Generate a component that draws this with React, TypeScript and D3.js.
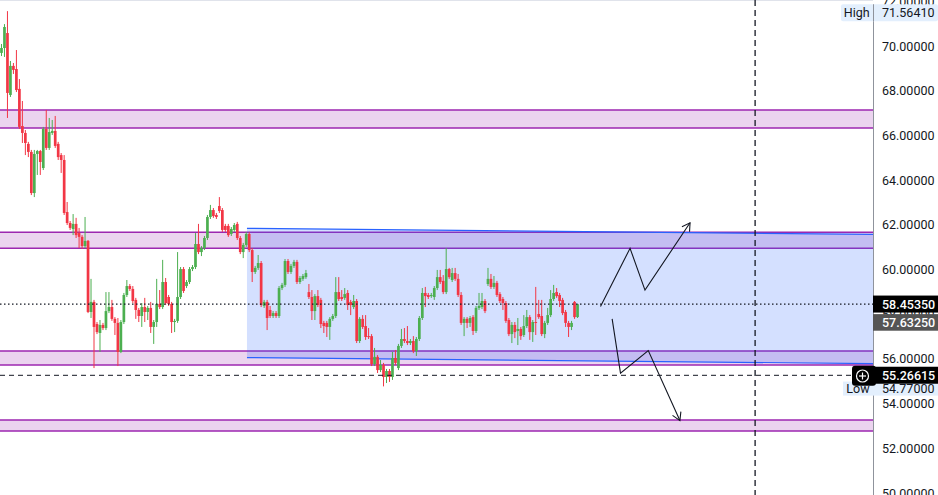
import React from "react";
import * as d3 from "d3";

// ---- candle data (price units) ----
const opens = [
  69.69, 69.91, 70.58, 67.81, 69.11, 68.97, 68.08, 66.42, 66.11, 65.62,
  65.26, 63.42, 65.17, 65.30, 64.54, 66.29, 65.44, 66.11, 66.20, 65.62,
  65.12, 64.90, 62.57, 62.08, 61.81, 62.04, 61.63, 61.46, 61.05, 61.28,
  58.10, 58.55, 57.56, 57.16, 57.52, 57.38, 58.14, 58.32, 57.79, 57.61,
  56.31, 57.65, 58.86, 59.26, 59.13, 58.64, 58.19, 57.92, 58.32, 58.10,
  58.28, 57.43, 57.65, 58.46, 58.32, 59.44, 58.77, 58.46, 57.65, 57.70,
  58.77, 60.02, 59.26, 59.44, 60.02, 60.11, 61.14, 60.78, 60.96, 61.41,
  62.35, 62.66, 62.44, 62.84, 62.66, 61.95, 61.95, 61.59, 61.77, 62.04,
  61.41, 60.78, 61.10, 61.59, 60.87, 59.89, 60.07, 60.29, 58.37, 58.55,
  58.19, 57.92, 58.05, 57.92, 59.17, 59.31, 60.38, 59.89, 60.16, 60.34,
  59.44, 59.58, 59.66, 58.99, 58.77, 58.14, 58.81, 58.64, 57.61, 57.61,
  57.43, 57.79, 57.92, 58.99, 58.77, 58.73, 58.95, 58.55, 58.32, 58.59,
  56.80, 57.79, 57.47, 57.02, 57.02, 55.77, 56.09, 55.50, 55.73, 55.19,
  55.46, 55.19, 56.04, 55.59, 56.58, 56.89, 56.80, 56.71, 56.80, 56.35,
  56.89, 57.83, 58.95, 58.86, 58.81, 58.77, 59.17, 59.66, 59.49, 58.99,
  60.02, 59.53, 59.84, 59.58, 58.86, 57.61, 57.79, 57.61, 57.87, 57.25,
  58.28, 58.32, 58.59, 59.35, 59.58, 59.22, 59.40, 58.90, 58.68, 58.50,
  57.74, 57.11, 57.52, 57.25, 57.34, 57.07, 57.47, 57.87, 57.20, 57.65,
  58.01, 57.92, 57.11, 57.61, 57.96, 58.68, 58.99, 58.86, 58.64, 58.10,
  57.61, 57.43, 58.55, 57.87,
];
const highs = [
  70.09, 70.98, 71.56, 69.33, 69.24, 69.82, 68.52, 67.54, 66.24, 65.71,
  65.35, 65.35, 65.35, 65.35, 66.38, 67.14, 66.78, 66.69, 66.87, 65.71,
  65.21, 65.12, 63.02, 62.17, 62.48, 62.31, 61.86, 61.54, 62.35, 61.32,
  59.58, 58.64, 57.65, 57.74, 57.61, 58.99, 58.99, 58.64, 57.87, 57.83,
  57.74, 58.95, 59.53, 59.35, 59.26, 58.73, 58.28, 58.50, 58.73, 58.37,
  58.55, 57.74, 59.58, 59.08, 60.43, 59.62, 58.86, 58.55, 57.79, 60.78,
  60.11, 60.11, 59.53, 60.11, 60.20, 61.63, 62.04, 61.05, 61.50, 62.44,
  62.89, 62.75, 62.53, 63.24, 62.75, 62.04, 62.04, 61.90, 62.08, 62.13,
  61.50, 61.19, 61.68, 61.68, 60.96, 60.16, 60.65, 60.38, 58.64, 58.64,
  58.37, 58.14, 58.14, 59.26, 59.40, 60.47, 60.47, 60.25, 60.43, 60.43,
  59.71, 59.80, 59.98, 59.35, 59.08, 58.90, 59.08, 58.73, 57.70, 57.70,
  57.87, 58.01, 59.66, 59.66, 59.08, 59.17, 59.08, 58.64, 58.86, 58.68,
  57.87, 57.96, 57.96, 57.38, 57.11, 56.49, 56.17, 55.95, 55.82, 55.55,
  55.55, 56.31, 56.40, 56.67, 57.34, 57.38, 57.47, 56.89, 57.02, 56.98,
  57.92, 59.17, 59.22, 58.95, 58.95, 59.26, 59.98, 59.98, 59.75, 60.96,
  60.07, 60.07, 60.07, 59.80, 58.99, 57.87, 57.87, 57.92, 57.96, 58.37,
  58.95, 58.95, 58.68, 60.07, 59.80, 59.71, 59.49, 58.99, 58.77, 58.59,
  57.83, 57.65, 57.65, 57.83, 57.43, 57.96, 58.19, 57.96, 57.74, 59.22,
  58.64, 58.64, 57.70, 58.28, 59.08, 59.31, 59.17, 58.95, 58.73, 58.19,
  57.70, 57.70, 58.59, 58.46,
];
const lows = [
  69.55, 69.51, 66.78, 67.72, 68.75, 67.94, 66.29, 65.66, 65.12, 65.03,
  63.33, 63.24, 64.23, 64.23, 64.45, 65.35, 65.35, 66.02, 65.44, 64.90,
  64.32, 62.44, 61.99, 61.77, 61.54, 61.41, 60.96, 60.92, 60.96, 58.05,
  57.83, 55.59, 57.11, 56.31, 57.29, 57.29, 58.05, 57.70, 57.07, 55.68,
  56.26, 57.56, 58.77, 59.04, 58.50, 57.79, 57.65, 57.43, 57.65, 57.74,
  57.16, 56.67, 57.43, 58.23, 58.23, 58.41, 58.37, 57.16, 57.20, 57.61,
  58.68, 58.95, 59.17, 59.35, 59.93, 60.02, 60.69, 60.60, 60.87, 61.32,
  62.26, 62.31, 62.26, 62.53, 61.68, 61.68, 61.46, 61.50, 61.68, 61.32,
  60.69, 60.51, 61.01, 60.78, 59.44, 59.80, 59.98, 58.32, 58.28, 57.29,
  57.83, 57.83, 57.83, 57.83, 59.08, 59.22, 59.80, 59.80, 60.07, 59.35,
  59.35, 59.49, 59.58, 58.68, 57.74, 57.74, 58.32, 57.38, 57.16, 56.98,
  56.85, 57.70, 57.83, 58.59, 58.59, 58.64, 58.19, 57.96, 58.23, 56.71,
  56.71, 57.34, 56.85, 56.89, 55.68, 55.68, 55.37, 55.41, 54.77, 54.92,
  54.97, 55.06, 55.73, 55.50, 56.49, 56.71, 56.62, 56.62, 56.26, 56.13,
  56.80, 57.74, 58.32, 58.68, 58.73, 58.64, 59.08, 59.35, 58.90, 58.90,
  59.58, 59.44, 59.49, 58.77, 57.52, 57.02, 57.38, 57.43, 57.07, 57.16,
  58.19, 58.23, 58.05, 59.26, 59.13, 59.13, 58.77, 58.50, 58.19, 57.61,
  57.02, 56.71, 56.93, 56.62, 56.85, 56.98, 57.38, 56.85, 56.76, 57.07,
  57.79, 57.02, 56.93, 57.52, 57.87, 58.59, 58.73, 58.32, 57.96, 57.43,
  56.98, 57.29, 57.79, 57.83,
];
const closes = [
  69.91, 70.85, 67.90, 69.11, 68.93, 68.03, 66.38, 66.11, 65.66, 65.26,
  63.42, 65.17, 65.30, 64.81, 66.29, 65.44, 66.15, 66.20, 65.53, 65.03,
  64.90, 62.53, 62.08, 61.86, 62.04, 61.54, 61.46, 61.05, 61.28, 58.10,
  58.55, 57.43, 57.20, 57.52, 57.38, 58.14, 58.32, 57.79, 57.61, 56.31,
  57.65, 58.86, 59.26, 59.13, 58.59, 58.19, 57.92, 58.32, 58.10, 58.28,
  57.43, 57.65, 58.46, 58.32, 59.44, 58.50, 58.46, 57.65, 57.70, 58.77,
  60.02, 59.04, 59.44, 60.02, 60.11, 61.14, 60.78, 60.96, 61.41, 62.35,
  62.66, 62.39, 62.35, 62.62, 61.77, 61.77, 61.54, 61.81, 61.99, 61.41,
  60.78, 61.10, 61.59, 60.87, 59.89, 60.07, 60.29, 58.41, 58.55, 57.83,
  57.92, 58.05, 57.92, 59.17, 59.31, 60.38, 59.89, 60.16, 60.34, 59.44,
  59.62, 59.71, 59.84, 58.77, 58.14, 58.81, 58.41, 57.56, 57.47, 57.43,
  57.79, 57.92, 58.99, 58.68, 58.68, 58.90, 58.41, 58.41, 58.59, 56.80,
  57.79, 57.43, 56.98, 56.98, 55.77, 56.09, 55.50, 55.73, 55.19, 55.46,
  55.19, 56.04, 55.82, 56.58, 56.89, 56.80, 56.71, 56.80, 56.35, 56.89,
  57.83, 58.95, 58.81, 58.77, 58.86, 59.17, 59.66, 59.44, 58.99, 60.02,
  59.66, 59.84, 59.58, 58.86, 57.61, 57.79, 57.61, 57.83, 57.25, 58.28,
  58.37, 58.59, 58.14, 59.58, 59.22, 59.40, 58.86, 58.59, 58.50, 57.70,
  57.11, 57.52, 57.20, 57.34, 57.02, 57.47, 57.87, 57.20, 57.65, 57.61,
  57.87, 57.11, 57.61, 57.96, 58.68, 58.95, 58.81, 58.59, 58.05, 57.61,
  57.43, 57.61, 57.87, 58.45,
];

// ---- axis & annotation values ----
const priceTicks = [50, 52, 54, 56, 58, 60, 62, 64, 66, 68, 70, 72];
const zoneTops = [67.14, 61.67, 56.35, 53.27];
const zoneBottoms = [66.33, 60.95, 55.73, 52.77];
const channelTopLine = [
  { i: 82.25, p: 61.84 },
  { i: 292, p: 61.57 },
];
const channelBottomLine = [
  { i: 82.25, p: 56.06 },
  { i: 292, p: 55.79 },
];
const upScenario = [
  { i: 200.7, p: 58.34 },
  { i: 210.6, p: 60.95 },
  { i: 215.6, p: 59.08 },
  { i: 230.7, p: 62.09 },
];
const downScenario = [
  { i: 204.6, p: 57.79 },
  { i: 207.4, p: 55.36 },
  { i: 216.7, p: 56.37 },
  { i: 227.3, p: 53.24 },
];
const lastPrice = 58.4535;
const secondPrice = 57.6325;
const markPrice = 55.26615;
const highPrice = 71.5641;
const lowPrice = 54.77;
const sessionBreakIndex = 252.5;

const W = 938;
const H = 495;
const AXIS_X = 873;
const FONT = "Roboto, 'Liberation Sans', sans-serif";
const UP = "#4caf50";
const DOWN = "#f23645";
const INK = "#131722";

function arrowHead(pts: [number, number][], len = 9) {
  const [px, py] = pts[pts.length - 2];
  const [ex, ey] = pts[pts.length - 1];
  const a = Math.atan2(ey - py, ex - px);
  const s = Math.PI * 0.83;
  const p1 = [ex + len * Math.cos(a + s), ey + len * Math.sin(a + s)];
  const p2 = [ex + len * Math.cos(a - s), ey + len * Math.sin(a - s)];
  return `M${p1[0]},${p1[1]}L${ex},${ey}L${p2[0]},${p2[1]}`;
}

export default function App() {
  const x = d3.scaleLinear().domain([-0.5, 292]).range([0, AXIS_X]);
  const y = d3.scaleLinear().domain([50, 70]).range([493, 46]);
  const line = d3
    .line<{ i: number; p: number }>()
    .x((d) => x(d.i))
    .y((d) => y(d.p));

  const bodyW = 2.7;

  const chanPoly = [
    [x(channelTopLine[0].i), y(channelTopLine[0].p)],
    [x(channelTopLine[1].i), y(channelTopLine[1].p)],
    [x(channelBottomLine[1].i), y(channelBottomLine[1].p)],
    [x(channelBottomLine[0].i), y(channelBottomLine[0].p)],
  ];

  const upPts = upScenario.map((d) => [x(d.i), y(d.p)] as [number, number]);
  const downPts = downScenario.map((d) => [x(d.i), y(d.p)] as [number, number]);

  const yLast = y(lastPrice);
  const ySecond = y(secondPrice);
  const yMark = y(markPrice);
  const yHigh = y(highPrice) + 1.7;
  const yLow = y(lowPrice) + 2.2;

  return (
    <svg
      width={W}
      height={H}
      style={{ position: "absolute", left: 0, top: 0, background: "#fff" }}
      fontFamily={FONT}
    >
      <rect x={0} y={0} width={W} height={H} fill="#ffffff" />
      <line x1={0} x2={AXIS_X} y1={0.5} y2={0.5} stroke="#e0e3eb" />

      {/* zones */}
      {zoneTops.map((t, k) => (
        <g key={"z" + k}>
          <rect
            x={0}
            y={y(t)}
            width={AXIS_X}
            height={y(zoneBottoms[k]) - y(t)}
            fill="rgba(156,39,176,0.2)"
          />
          <line x1={0} x2={AXIS_X} y1={y(t)} y2={y(t)} stroke="#9c27b0" strokeWidth={1.5} />
          <line
            x1={0}
            x2={AXIS_X}
            y1={y(zoneBottoms[k])}
            y2={y(zoneBottoms[k])}
            stroke="#9c27b0"
            strokeWidth={1.5}
          />
        </g>
      ))}

      {/* channel */}
      <path d={"M" + chanPoly.map((p) => p.join(",")).join("L") + "Z"} fill="rgba(41,98,255,0.2)" />
      <path d={line(channelTopLine) || ""} stroke="#2962ff" strokeWidth={1.2} fill="none" />
      <path d={line(channelBottomLine) || ""} stroke="#2962ff" strokeWidth={1.2} fill="none" />

      {/* candles */}
      {closes.map((c, i) => {
        const o = opens[i];
        const col = c >= o ? UP : DOWN;
        const cx = x(i);
        const yt = y(Math.max(o, c));
        const hb = Math.max(1, Math.abs(y(o) - y(c)));
        return (
          <g key={"c" + i}>
            <line x1={cx} x2={cx} y1={y(highs[i])} y2={y(lows[i])} stroke={col} strokeWidth={1} />
            <rect x={cx - bodyW / 2} y={yt} width={bodyW} height={hb} fill={col} />
          </g>
        );
      })}

      {/* price lines */}
      <line x1={0} x2={AXIS_X} y1={yLast} y2={yLast} stroke={INK} strokeWidth={1.3} strokeDasharray="1.5,2.5" />
      <line x1={0} x2={AXIS_X} y1={yMark} y2={yMark} stroke={INK} strokeWidth={1} strokeDasharray="5,4" />
      <line
        x1={x(sessionBreakIndex)}
        x2={x(sessionBreakIndex)}
        y1={0}
        y2={H}
        stroke={INK}
        strokeWidth={1.3}
        strokeDasharray="6,4"
      />

      {/* scenario arrows */}
      <polyline points={upPts.map((p) => p.join(",")).join(" ")} fill="none" stroke={INK} strokeWidth={1.1} />
      <path d={arrowHead(upPts)} fill="none" stroke={INK} strokeWidth={1.1} />
      <polyline points={downPts.map((p) => p.join(",")).join(" ")} fill="none" stroke={INK} strokeWidth={1.1} />
      <path d={arrowHead(downPts)} fill="none" stroke={INK} strokeWidth={1.1} />

      {/* price axis */}
      <rect x={AXIS_X} y={0} width={W - AXIS_X} height={H} fill="#ffffff" />
      <line x1={AXIS_X + 0.5} x2={AXIS_X + 0.5} y1={4} y2={H} stroke="#8f939c" strokeWidth={1} />
      {priceTicks.map((t) => (
        <text key={"t" + t} x={882} y={y(t)} dy="0.36em" fontSize={12.5} fill={INK}>
          {t.toFixed(5)}
        </text>
      ))}

      {/* High label */}
      <rect x={841} y={yHigh - 8.4} width={W - 841} height={16.8} rx={2} fill="#e3effd" />
      <line x1={AXIS_X + 0.5} x2={AXIS_X + 0.5} y1={yHigh - 8.4} y2={yHigh + 8.4} stroke="#8f939c" />
      <text x={856.7} y={yHigh} dy="0.36em" fontSize={12.5} fill={INK} textAnchor="middle">
        High
      </text>
      <text x={882} y={yHigh} dy="0.36em" fontSize={12.5} fill={INK}>
        {highPrice.toFixed(5)}
      </text>

      {/* Low label */}
      <rect x={843} y={yLow - 7} width={W - 843} height={14} fill="#e3effd" />
      <text x={858} y={yLow} dy="0.36em" fontSize={12.5} fill={INK} textAnchor="middle">
        Low
      </text>
      <text x={882} y={yLow} dy="0.36em" fontSize={12.5} fill={INK}>
        {lowPrice.toFixed(5)}
      </text>

      {/* last price */}
      <rect x={AXIS_X} y={yLast - 8.5} width={W - AXIS_X} height={17} fill="#000000" />
      <text x={882} y={yLast} dy="0.36em" fontSize={12.5} fill="#ffffff" fontWeight={500}>
        {lastPrice.toFixed(5)}
      </text>
      <rect x={AXIS_X} y={ySecond - 8.3} width={W - AXIS_X} height={16.6} fill="#555555" />
      <text x={882} y={ySecond} dy="0.36em" fontSize={12.5} fill="#ffffff" fontWeight={500}>
        {secondPrice.toFixed(5)}
      </text>

      {/* mark price with plus icon */}
      <path d={`M${AXIS_X},${yMark - 8.5}H${W}V${yMark + 8.5}H${AXIS_X}Z`} fill="#000000" />
      <rect x={852} y={yMark - 9.5} width={24} height={20} rx={3} fill="#000000" />
      <circle cx={862.5} cy={yMark + 0.7} r={6} fill="none" stroke="#ffffff" strokeWidth={1.2} />
      <line x1={859} x2={866} y1={yMark + 0.7} y2={yMark + 0.7} stroke="#ffffff" strokeWidth={1.2} />
      <line x1={862.5} x2={862.5} y1={yMark - 2.8} y2={yMark + 4.2} stroke="#ffffff" strokeWidth={1.2} />
      <text x={882} y={yMark} dy="0.36em" fontSize={12.5} fill="#ffffff" fontWeight={500}>
        {markPrice.toFixed(5)}
      </text>
    </svg>
  );
}
